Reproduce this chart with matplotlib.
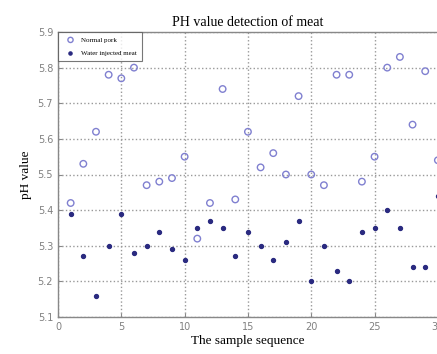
import matplotlib
matplotlib.use("Agg")
import matplotlib.pyplot as plt

samples = list(range(1, 31))
normal_pork = [5.42, 5.53, 5.62, 5.78, 5.77, 5.80, 5.47, 5.48, 5.49, 5.55,
               5.32, 5.42, 5.74, 5.43, 5.62, 5.52, 5.56, 5.50, 5.72, 5.50,
               5.47, 5.78, 5.78, 5.48, 5.55, 5.80, 5.83, 5.64, 5.79, 5.54]
water_injected = [5.39, 5.27, 5.16, 5.30, 5.39, 5.28, 5.30, 5.34, 5.29, 5.26,
                  5.35, 5.37, 5.35, 5.27, 5.34, 5.30, 5.26, 5.31, 5.37, 5.20,
                  5.30, 5.23, 5.20, 5.34, 5.35, 5.40, 5.35, 5.24, 5.24, 5.44]
xticks = [0, 5, 10, 15, 20, 25, 30]
yticks = [5.1, 5.2, 5.3, 5.4, 5.5, 5.6, 5.7, 5.8, 5.9]

fig = plt.figure(figsize=(4.37, 3.54), dpi=100)
ax = fig.add_axes([58/437, 37/354, 1 - 58/437 + 0.002, 285/354])

ax.scatter(samples, normal_pork, s=22, facecolors='none', edgecolors='#8080d0',
           linewidths=1.0, label='Normal pork', zorder=3)
ax.scatter(samples, water_injected, s=8, color='#2a2a80', label='Water injected meat', zorder=3)

ax.set_xlim(0, 30)
ax.set_ylim(5.1, 5.9)
ax.set_xticks(xticks)
ax.set_yticks(yticks)
ax.set_yticklabels([f"{v:.1f}" for v in yticks])
ax.tick_params(direction='in', labelsize=7, colors='#888888', length=3)
for lbl in ax.get_xticklabels() + ax.get_yticklabels():
    lbl.set_color('#808080')
ax.grid(True, linestyle=':', color='#999999', linewidth=1.0)
for s in ax.spines.values():
    s.set_color('#888888')
    s.set_linewidth(1.0)

serif = ['Liberation Serif', 'DejaVu Serif']
ax.set_title('PH value detection of meat', family=serif, fontsize=10, pad=4)
ax.set_xlabel('The sample sequence', family=serif, fontsize=9.5, labelpad=2)
ax.set_ylabel('pH value', family=serif, fontsize=9.5, labelpad=4)

leg = ax.legend(loc='upper left', prop={'family': serif, 'size': 5},
                frameon=True, fancybox=False, edgecolor='#555555',
                borderpad=0.7, handletextpad=0.4, borderaxespad=0.0,
                labelspacing=1.1, markerscale=0.8, handlelength=2.2)
leg.get_frame().set_linewidth(0.8)

fig.savefig('out.png', dpi=100)
